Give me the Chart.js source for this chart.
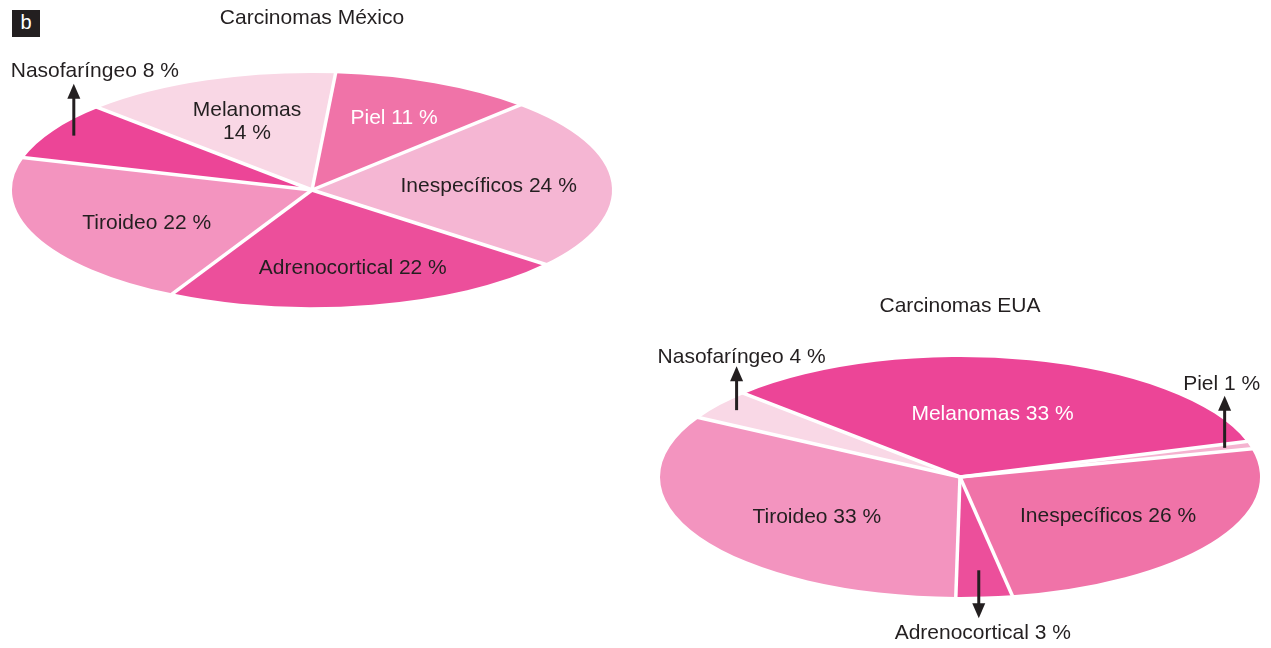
<!DOCTYPE html>
<html>
<head>
<meta charset="utf-8">
<script src="https://cdn.jsdelivr.net/npm/chart.js@4/dist/chart.umd.min.js"></script>
<style>
  body { margin: 0; background: #fff; width: 1271px; height: 648px; overflow: hidden; position: relative; font-family: "Liberation Sans", Arial, sans-serif; }
  .box { position: absolute; }
  #tag { left: 12px; top: 10px; width: 28px; height: 27px; background: #231f20; color: #fff; font-size: 20px; line-height: 25px; text-align: center; }
</style>
</head>
<body>
<div id="tag" class="box">b</div>
<div class="box" style="left:0;top:0;width:640px;height:340px"><canvas id="mx"></canvas></div>
<div class="box" style="left:640px;top:280px;width:631px;height:368px"><canvas id="us"></canvas></div>
<script>
// Carcinomas México
const mxLabels = ['Piel', 'Inespecíficos', 'Adrenocortical', 'Tiroideo', 'Nasofaríngeo', 'Melanomas'];
const mxValues = [11, 24, 22, 22, 8, 14];
const mxColors = ['#f073a8', '#f5b6d3', '#ec4f9b', '#f394bf', '#ec4597', '#f9d7e5'];

// Carcinomas EUA
const usLabels = ['Melanomas', 'Piel', 'Inespecíficos', 'Adrenocortical', 'Tiroideo', 'Nasofaríngeo'];
const usValues = [33, 1, 26, 3, 33, 4];
const usColors = ['#ec4597', '#f5b3d0', '#f073a8', '#ec4f9b', '#f394bf', '#f9d8e6'];

const INK = '#231f20';
const FONT = '"Liberation Sans", Arial, sans-serif';

// label placement: f = fraction of radius, arrow = arrow length (neg = up)
const mxLabelStyle = [
  {f: 0.67, color: '#fff'},
  {f: 0.59},
  {f: 0.68},
  {f: 0.61, dx: 3, dy: 5},
  {f: 0.92, arrow: -52, dx: 21, gap: 12},
  {f: 0.62, wrap: true}
];
const usLabelStyle = [
  {f: 0.54, color: '#fff', dx: -5},
  {f: 0.915, arrow: -52, dx: -3, gap: 12},
  {f: 0.59},
  {f: 0.78, arrow: 48, dx: 4, gap: 15},
  {f: 0.55, dy: 7},
  {f: 0.93, arrow: -44, dx: 5, gap: 9}
];

function drawArrow(ctx, x, y0, y1) {
  const dir = Math.sign(y1 - y0);
  ctx.strokeStyle = INK;
  ctx.fillStyle = INK;
  ctx.lineWidth = 3;
  ctx.beginPath();
  ctx.moveTo(x, y0);
  ctx.lineTo(x, y1 - dir * 12);
  ctx.stroke();
  ctx.beginPath();
  ctx.moveTo(x, y1);
  ctx.lineTo(x - 6.5, y1 - dir * 15);
  ctx.lineTo(x + 6.5, y1 - dir * 15);
  ctx.closePath();
  ctx.fill();
}

function ellipsePlugin(k, styles) {
  return {
    id: 'ellipse',
    beforeDatasetsDraw(chart) {
      const el = chart.getDatasetMeta(0).data[0];
      const ctx = chart.ctx;
      ctx.save();
      ctx.translate(el.x, el.y);
      ctx.scale(1, k);
      ctx.translate(-el.x, -el.y);
    },
    afterDatasetsDraw(chart) {
      const ctx = chart.ctx;
      ctx.restore();
      const arcs = chart.getDatasetMeta(0).data;
      const labels = chart.data.labels;
      const values = chart.data.datasets[0].data;

      // white gaps between slices
      ctx.save();
      ctx.strokeStyle = '#fff';
      ctx.lineWidth = 3.5;
      arcs.forEach(a => {
        const p = a.getProps(['x', 'y', 'startAngle', 'outerRadius'], true);
        ctx.beginPath();
        ctx.moveTo(p.x, p.y);
        ctx.lineTo(p.x + (p.outerRadius + 6) * Math.cos(p.startAngle),
                   p.y + (p.outerRadius + 6) * k * Math.sin(p.startAngle));
        ctx.stroke();
      });
      ctx.restore();

      // labels
      ctx.save();
      ctx.font = '21px ' + FONT;
      ctx.textAlign = 'center';
      ctx.textBaseline = 'middle';
      arcs.forEach((a, i) => {
        const s = styles[i];
        const p = a.getProps(['x', 'y', 'startAngle', 'endAngle', 'outerRadius'], true);
        const mid = (p.startAngle + p.endAngle) / 2;
        const x = p.x + p.outerRadius * s.f * Math.cos(mid) + (s.arrow ? 0 : (s.dx || 0));
        const y = p.y + p.outerRadius * k * s.f * Math.sin(mid) + (s.dy || 0);
        const txt = labels[i] + ' ' + values[i] + ' %';
        if (s.arrow) {
          const tip = y + s.arrow;
          drawArrow(ctx, x, y, tip);
          ctx.fillStyle = INK;
          ctx.fillText(txt, x + (s.dx || 0), tip + Math.sign(s.arrow) * s.gap);
        } else if (s.wrap) {
          ctx.fillStyle = s.color || INK;
          ctx.fillText(labels[i], x, y - 11.5);
          ctx.fillText(values[i] + ' %', x, y + 11.5);
        } else {
          ctx.fillStyle = s.color || INK;
          ctx.fillText(txt, x, y);
        }
      });
      ctx.restore();
    }
  };
}

function makePie(id, title, labels, values, colors, rotation, k, styles, titlePad, padding) {
  return new Chart(document.getElementById(id), {
    type: 'pie',
    data: {
      labels: labels,
      datasets: [{
        data: values,
        backgroundColor: colors,
        borderWidth: 0,
        radius: 300,
        clip: false
      }]
    },
    options: {
      responsive: true,
      maintainAspectRatio: false,
      animation: false,
      rotation: rotation,
      layout: { padding: padding },
      events: [],
      plugins: {
        legend: { display: false },
        tooltip: { enabled: false },
        title: {
          display: true,
          text: title,
          color: INK,
          font: { family: FONT, size: 21, weight: 'normal' },
          padding: titlePad
        }
      }
    },
    plugins: [ellipsePlugin(k, styles)]
  });
}

makePie('mx', 'Carcinomas México', mxLabels, mxValues, mxColors, 4.5, 0.39, mxLabelStyle,
  {top: 5.4, bottom: 9.4}, {left: 0, right: 16, top: 0, bottom: 0});
makePie('us', 'Carcinomas EUA', usLabels, usValues, usColors, -46, 0.4, usLabelStyle,
  {top: 13.4, bottom: 0}, {left: 9, right: 0, top: 0, bottom: 12.6});
</script>
</body>
</html>
